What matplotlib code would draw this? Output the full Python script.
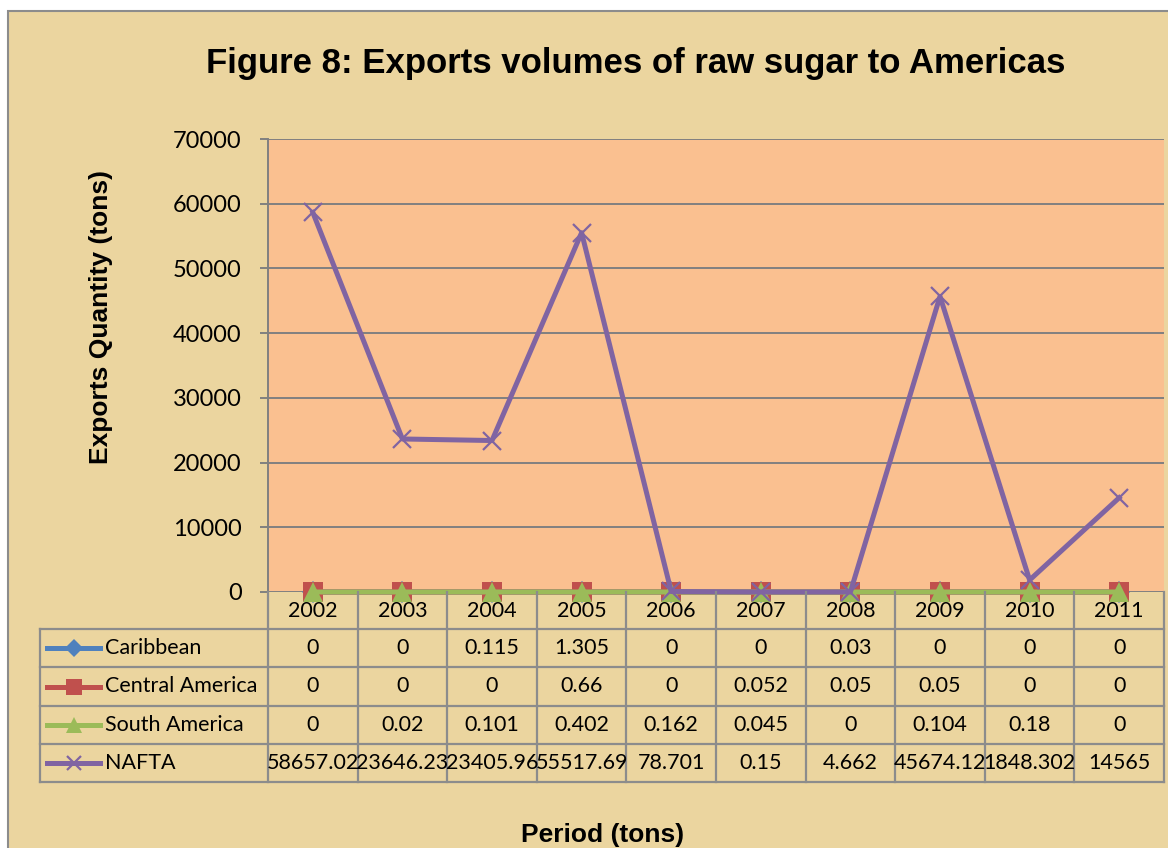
import numpy as np
import matplotlib.pyplot as plt
from matplotlib.patches import Rectangle
from matplotlib.lines import Line2D

years = ["2002", "2003", "2004", "2005", "2006", "2007", "2008", "2009", "2010", "2011"]
caribbean = [0, 0, 0.115, 1.305, 0, 0, 0.03, 0, 0, 0]
central_america = [0, 0, 0, 0.66, 0, 0.052, 0.05, 0.05, 0, 0]
south_america = [0, 0.02, 0.101, 0.402, 0.162, 0.045, 0, 0.104, 0.18, 0]
nafta = [58657.02, 23646.23, 23405.96, 55517.69, 78.701, 0.15, 4.662, 45674.12, 1848.302, 14565]

series = [
    ("Caribbean", caribbean, "#4F81BD", "D", 11),
    ("Central America", central_america, "#C0504D", "s", 14),
    ("South America", south_america, "#9BBB59", "^", 15),
    ("NAFTA", nafta, "#8064A2", "x", 13),
]

W, H = 1168, 848
fig = plt.figure(figsize=(W / 100, H / 100), dpi=100, facecolor="white")
plt.rcParams["font.family"] = ["Lato", "DejaVu Sans"]

def fx(x):
    return x / W

def fy(y):
    return 1 - y / H

# parchment frame
fig.add_artist(Rectangle((fx(8), -0.01), 1.02 - fx(8), fy(11) + 0.01, transform=fig.transFigure,
                         facecolor="#EBD59F", edgecolor="#8C8C8C", lw=1.5, zorder=-2))

# plot area
x0, x1, ytop, ybot = 268, 1164, 139, 592
ax = fig.add_axes([fx(x0), fy(ybot), fx(x1 - x0), (ybot - ytop) / H])
ax.set_facecolor("#FAC090")
ax.set_xlim(-0.5, len(years) - 0.5)
ax.set_ylim(0, 70000)
ax.set_yticks(np.arange(0, 70001, 10000))
ax.set_xticks([])
ax.grid(axis="y", color="#808080", lw=1.4)
ax.set_axisbelow(True)
for s in ["top", "right", "bottom"]:
    ax.spines[s].set_visible(False)
ax.spines["left"].set_color("#808080")
ax.spines["left"].set_linewidth(1.4)
ax.tick_params(axis="y", length=6, width=1.4, color="#808080", pad=13, labelsize=17)

xs = np.arange(len(years))
for name, vals, col, mk, ms in series:
    ax.plot(xs, vals, color=col, lw=3.6, marker=mk, ms=ms,
            mew=1.6 if mk == "x" else 0, mec=col, clip_on=False, zorder=3)

# data table in pixel coordinates
ov = fig.add_axes([0, 0, 1, 1], facecolor="none")
ov.set_xlim(0, W)
ov.set_ylim(H, 0)
ov.axis("off")

gc = "#8C8C8C"
cw = (x1 - x0) / len(years)
rows = [629, 667, 706, 744, 782]
for r in rows:
    ov.plot([40, x1], [r, r], color=gc, lw=1.6)
ov.plot([40, 40], [rows[0], rows[-1]], color=gc, lw=1.6)
for k in range(len(years) + 1):
    ov.plot([x0 + k * cw] * 2, [ybot, rows[-1]], color=gc, lw=1.6)

def fmt(v):
    return ("%.3f" % v).rstrip("0").rstrip(".")

for k, y in enumerate(years):
    ov.text(x0 + (k + 0.5) * cw, 611, y, ha="center", va="center", fontsize=15.5)

for i, (name, vals, col, mk, ms) in enumerate(series):
    cy = (rows[i] + rows[i + 1]) / 2
    ov.add_line(Line2D([47, 100], [cy, cy], color=col, lw=3.6))
    ov.plot([73.5], [cy], marker=mk, color=col, ms=ms * 0.8,
            mew=1.6 if mk == "x" else 0, mec=col)
    ov.text(105, cy, name, ha="left", va="center", fontsize=15.5)
    for k, v in enumerate(vals):
        ov.text(x0 + (k + 0.5) * cw, cy, fmt(v), ha="center", va="center", fontsize=15.5)

fig.text(fx(636), fy(64), "Figure 8: Exports volumes of raw sugar to Americas",
         ha="center", va="center", fontsize=25, fontweight="bold", family="Liberation Sans")
fig.text(fx(101), fy(317), "Exports Quantity (tons)", rotation=90, ha="center", va="center",
         fontsize=19, fontweight="bold", family="Liberation Sans")
fig.text(fx(603), fy(835), "Period (tons)", ha="center", va="center",
         fontsize=19, fontweight="bold", family="Liberation Sans")

fig.savefig("out.png", dpi=100)
